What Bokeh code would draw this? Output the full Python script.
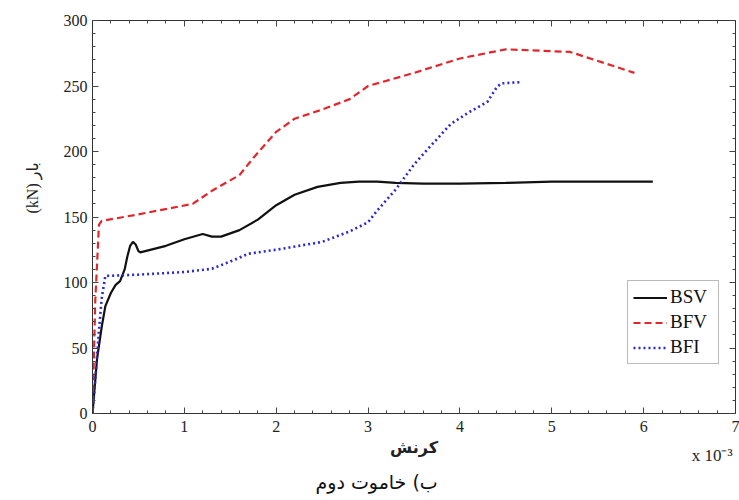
from bokeh.plotting import figure
from bokeh.models import Range1d, FixedTicker, LinearAxis, Legend, LegendItem, CustomJSTickFormatter, Title
from bokeh.embed import file_html
from bokeh.resources import INLINE

# ---- data (strain in 1e-3, load in kN) ----
bsv_x = [0, 0.05, 0.1, 0.14, 0.2, 0.25, 0.3, 0.35, 0.38, 0.41, 0.44, 0.47, 0.5, 0.52, 0.8, 1.0, 1.2, 1.3, 1.4, 1.6, 1.8, 2.0, 2.2, 2.45, 2.7, 2.9, 3.1, 3.3, 3.6, 4.0, 4.5, 5.0, 5.5, 6.1]
bsv_y = [0, 42, 66, 82, 92, 98, 101, 110, 120, 128, 131, 129, 124, 123, 128, 133, 137, 135, 135, 140, 148, 159, 167, 173, 176, 177, 177, 176, 175.5, 175.5, 176, 177, 177, 177]

bfv_x = [0, 0.03, 0.07, 0.1, 0.5, 1.09, 1.3, 1.6, 1.75, 2.0, 2.2, 2.5, 2.8, 3.0, 3.5, 4.0, 4.5, 5.2, 5.9]
bfv_y = [0, 86, 144, 147, 152, 160, 170, 182, 195, 215, 225, 232, 240, 250, 260, 271, 278, 276, 260]

bfi_x = [0, 0.04, 0.07, 0.1, 0.14, 0.5, 1.0, 1.3, 1.5, 1.7, 2.0, 2.5, 2.8, 3.0, 3.1, 3.3, 3.5, 3.6, 3.9, 4.1, 4.3, 4.4, 4.45, 4.67]
bfi_y = [0, 35, 63, 88, 105, 106, 108, 110.5, 116, 122, 125, 131, 139, 146, 155, 171, 190, 198, 221, 230, 238, 249, 252, 253]

series_names = ["BSV", "BFV", "BFI"]
x_ticks = [0, 1, 2, 3, 4, 5, 6, 7]
y_ticks = [0, 50, 100, 150, 200, 250, 300]
x_minor = [i * 0.2 for i in range(36)]
y_minor = [i * 10 for i in range(31)]

y_label = "(kN) بار"
x_label = "کرنش"
caption = "ب) خاموت دوم"
x_scale_note = "x 10\u207b\u00b3\n"

SERIF = "Liberation Serif"
ARABIC = "DejaVu Sans"

p = figure(width=739, height=500, output_backend="svg", toolbar_location=None,
           x_range=Range1d(0, 7), y_range=Range1d(0, 300),
           min_border_left=92, min_border_right=4, min_border_top=20, min_border_bottom=87)
p.xgrid.visible = False
p.ygrid.visible = False
p.outline_line_color = "#333333"
p.outline_line_width = 1
p.background_fill_color = "white"
p.border_fill_color = "white"

def style_axis(ax, ticks, minor, show_labels=True):
    ax.ticker = FixedTicker(ticks=ticks, minor_ticks=minor)
    ax.major_tick_in = 6
    ax.major_tick_out = 0
    ax.minor_tick_in = 3
    ax.minor_tick_out = 0
    ax.axis_line_color = "#333333"
    ax.major_tick_line_color = "#444444"
    ax.minor_tick_line_color = "#444444"
    ax.major_label_text_font = SERIF
    ax.major_label_text_font_size = "16px"
    ax.major_label_text_color = "#222222"
    if not show_labels:
        ax.formatter = CustomJSTickFormatter(code="return ''")
        ax.major_label_standoff = 0

style_axis(p.xaxis[0], x_ticks, x_minor)
style_axis(p.yaxis[0], y_ticks, y_minor)
p.xaxis[0].major_label_standoff = 7
p.yaxis[0].major_label_standoff = 5
p.xaxis[0].axis_label = x_label
p.xaxis[0].axis_label_text_font = ARABIC
p.xaxis[0].axis_label_text_font_size = "16px"
p.xaxis[0].axis_label_text_font_style = "bold"
p.xaxis[0].axis_label_text_color = "#222222"
p.xaxis[0].axis_label_standoff = 3

top = LinearAxis()
style_axis(top, x_ticks, x_minor, show_labels=False)
p.add_layout(top, "above")
right = LinearAxis()
style_axis(right, y_ticks, y_minor, show_labels=False)
p.add_layout(right, "right")

r1 = p.line(bsv_x, bsv_y, line_color="#111111", line_width=2.2)
r2 = p.line(bfv_x, bfv_y, line_color="#e3262b", line_width=2.2, line_dash="7 4")
r3 = p.line(bfi_x, bfi_y, line_color="#2a2ad0", line_width=2.6, line_dash="2 3")

legend = Legend(items=[LegendItem(label=series_names[0], renderers=[r1]),
                       LegendItem(label=series_names[1], renderers=[r2]),
                       LegendItem(label=series_names[2], renderers=[r3])],
                location=(535, 49))
legend.label_text_font = SERIF
legend.label_text_font_size = "19px"
legend.label_text_color = "#111111"
legend.glyph_width = 34
legend.glyph_height = 21
legend.label_height = 21
legend.label_width = 43
legend.label_standoff = 3
legend.spacing = 3
legend.padding = 5
legend.margin = 0
legend.border_line_color = "#777777"
legend.border_line_width = 1
legend.background_fill_alpha = 1
p.add_layout(legend, "center")

ylab = Title(text=y_label, align="left", offset=200, standoff=40,
             text_font=SERIF + ", " + ARABIC, text_font_size="16px",
             text_font_style="normal", text_color="#222222")
p.add_layout(ylab, "left")

note = Title(text=x_scale_note, align="right", offset=3, standoff=-28, vertical_align="top",
             text_font=SERIF, text_font_size="17px",
             text_font_style="normal", text_color="#222222")
p.add_layout(note, "below")

cap = Title(text=caption, align="left", offset=223, standoff=-6, vertical_align="bottom",
            text_font=ARABIC, text_font_size="19px",
            text_font_style="normal", text_color="#111111")
p.add_layout(cap, "below")

open("out.html", "w").write(file_html(p, INLINE))
